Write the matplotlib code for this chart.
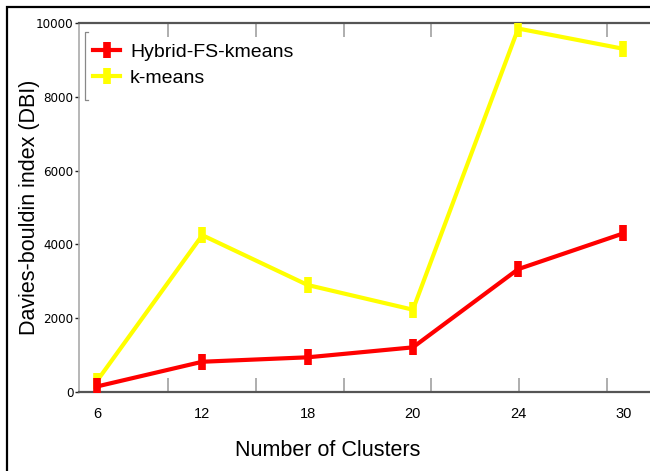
import numpy as np
import matplotlib
matplotlib.use("Agg")
import matplotlib.pyplot as plt
from matplotlib.patches import Rectangle
from matplotlib.lines import Line2D

# Data
clusters = ["6", "12", "18", "20", "24", "30"]
hybrid_fs_kmeans = [150, 820, 940, 1210, 3330, 4300]
kmeans = [300, 4250, 2900, 2230, 9850, 9300]
yticks = [0, 2000, 4000, 6000, 8000, 10000]

plt.rcParams['font.family'] = ['Liberation Sans', 'DejaVu Sans']

fig = plt.figure(figsize=(6.5, 4.71), dpi=100)
W, H = 650.0, 471.0

# axes box in pixels: left 79, top 23, bottom 392, right runs off the picture
left_px, right_px, top_px, bot_px = 79, 660, 23, 392
ax = fig.add_axes([left_px / W, (H - bot_px) / H,
                   (right_px - left_px) / W, (bot_px - top_px) / H])

x = np.arange(len(clusters))
ax.plot(x, kmeans, color='#ffff00', lw=3, marker='|', ms=11, mew=5.5,
        label='k-means', zorder=3)
ax.plot(x, hybrid_fs_kmeans, color='#ff0000', lw=3, marker='|', ms=11, mew=5.5,
        label='Hybrid-FS-kmeans', zorder=4)

# category positions: first point at px 97, step 105.3 px
step = 105.3
ax.set_xlim((left_px - 97) / step, (right_px - 97) / step)
ax.set_ylim(0, 10000)

ax.set_xticks(x)
ax.set_xticklabels(clusters, fontsize=10.5)
ax.tick_params(axis='x', which='major', length=0, pad=11)
# gray tick marks that do not line up with the categories
minor = [(168 + 87.8 * k - 97) / step for k in range(6)]
ax.set_xticks(minor, minor=True)
ax.tick_params(axis='x', which='minor', direction='in', length=10, width=1.1,
               color='#999999', top=True, bottom=True)

ax.set_yticks(yticks)
ax.set_yticklabels([str(v) for v in yticks],
                   family=['Liberation Sans Narrow', 'DejaVu Sans'],
                   fontsize=9.5, stretch='condensed')
ax.tick_params(axis='y', direction='out', length=3, width=1, color='#222222',
               pad=1, right=False)

for s in ['top', 'bottom']:
    ax.spines[s].set_color('#555555')
    ax.spines[s].set_linewidth(1.6)
ax.spines['left'].set_color('#aaaaaa')
ax.spines['left'].set_linewidth(1.2)
ax.spines['right'].set_visible(False)

ax.set_xlabel('Number of Clusters', fontsize=15.5)
ax.xaxis.set_label_coords((328 - left_px) / (right_px - left_px),
                          (bot_px - 440) / (bot_px - top_px))
ax.xaxis.label.set_va('top')

ax.set_ylabel('Davies-bouldin index (DBI)', fontsize=15.5)
ax.yaxis.label.set_va('center')
ax.yaxis.set_label_coords((30 - left_px) / (right_px - left_px), 0.5)

handles, labels = ax.get_legend_handles_labels()
leg = ax.legend(handles[::-1], labels[::-1], loc='upper left',
                bbox_to_anchor=((93 - left_px) / (right_px - left_px),
                                (bot_px - 43) / (bot_px - top_px)),
                frameon=False, fontsize=14, borderpad=0, borderaxespad=0,
                handlelength=1.4, handletextpad=0.5, labelspacing=0.45)

# faint bracket left of the legend
bx = (85 - left_px) / (right_px - left_px)
y0 = (bot_px - 32) / (bot_px - top_px)
y1 = (bot_px - 100) / (bot_px - top_px)
ax.add_line(Line2D([bx + 0.006, bx, bx, bx + 0.006], [y0, y0, y1, y1],
                   transform=ax.transAxes, color='#888888', lw=0.9))

# outer frame around the figure
fig.patches.append(Rectangle((7 / W, -0.1), 1.2, (H - 7) / H + 0.1,
                             transform=fig.transFigure, fill=False,
                             edgecolor='black', lw=1.6))

fig.savefig('out.png', dpi=100, facecolor='white')
